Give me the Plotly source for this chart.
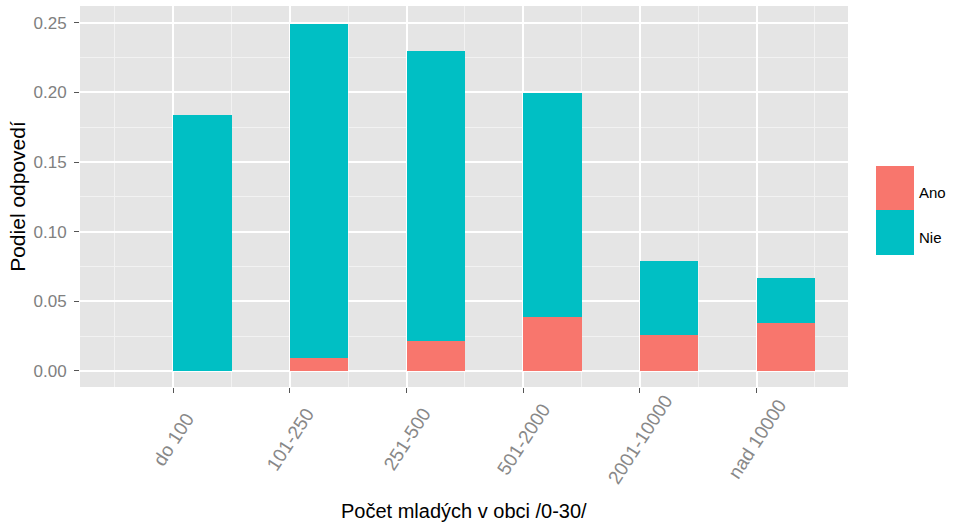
import numpy as np
import plotly.graph_objects as go

categories = ["do 100", "101-250", "251-500", "501-2000", "2001-10000", "nad 10000"]
ano = [0.0, 0.0093, 0.0218, 0.0384, 0.0261, 0.0343]
nie = [0.1837, 0.2400, 0.2081, 0.1609, 0.0525, 0.0321]
series_names = ["Ano", "Nie"]
series_colors = ["#F8766D", "#00BFC4"]
y_ticks = [0.00, 0.05, 0.10, 0.15, 0.20, 0.25]

pos = np.arange(1, len(categories) + 1)
bar_x = pos + 0.25

FONT = "Liberation Sans, Arial, sans-serif"
W, H = 953, 522
L, R, T, B = 80, 105, 6, 135
plot_h = H - T - B


def px_x(px):
    return (px - L) / (W - L - R)


def px_y(py):
    return (H - B - py) / plot_h


fig = go.Figure()
for name, vals, col in zip(series_names, [ano, nie], series_colors):
    fig.add_trace(go.Bar(x=bar_x, y=vals, width=0.5, name=name,
                         marker=dict(color=col, line=dict(width=0)),
                         showlegend=False))

fig.update_layout(
    width=W, height=H,
    barmode="stack",
    paper_bgcolor="white",
    plot_bgcolor="#E5E5E5",
    margin=dict(l=L, r=R, t=T, b=B, autoexpand=False),
    font=dict(family=FONT),
)

fig.update_xaxes(
    range=[0.2, 6.784], automargin=False,
    tickvals=list(pos), ticktext=[""] * len(categories),
    ticks="outside", ticklen=5, tickcolor="#555555", tickwidth=1,
    showgrid=True, gridcolor="white", gridwidth=1.6,
    minor=dict(dtick=0.5, tick0=0.5, showgrid=True, gridcolor="#F2F2F2", gridwidth=0.8, ticks=""),
    zeroline=False, showline=False,
)
fig.update_yaxes(
    range=[-0.0115, 0.262], automargin=False,
    tickvals=y_ticks, tickformat=".2f",
    tickfont=dict(size=17, color="#808080"),
    ticks="outside", ticklen=5, tickcolor="#555555", tickwidth=1,
    ticklabelstandoff=4,
    showgrid=True, gridcolor="white", gridwidth=1.6,
    minor=dict(dtick=0.025, tick0=0.025, showgrid=True, gridcolor="#F2F2F2", gridwidth=0.8, ticks=""),
    zeroline=False, showline=False,
    title=dict(text="Podiel odpovedí", font=dict(size=21, color="black"), standoff=2),
)

# Rotated category labels centred on their ticks (ggplot style)
for p, lab in zip(pos, categories):
    fig.add_annotation(x=p, y=px_y(439), xref="x", yref="paper",
                       text=lab, textangle=-57, showarrow=False,
                       xanchor="center", yanchor="middle",
                       font=dict(size=19, color="#888888", family=FONT))

# X axis title
fig.add_annotation(x=0.5, y=px_y(511), xref="paper", yref="paper",
                   text="Počet mladých v obci /0-30/", showarrow=False,
                   xanchor="center", yanchor="middle",
                   font=dict(size=20, color="black", family=FONT))

# Legend drawn manually (large ggplot-style keys)
key_x0, key_x1 = px_x(876), px_x(914)
key_bounds = [(px_y(210), px_y(166)), (px_y(255), px_y(210))]
label_y = [px_y(192), px_y(237)]
for name, col, (y0, y1), ly in zip(series_names, series_colors, key_bounds, label_y):
    fig.add_shape(type="rect", xref="paper", yref="paper", x0=key_x0, x1=key_x1, y0=y0, y1=y1,
                  fillcolor=col, line=dict(width=0), layer="above")
    fig.add_annotation(x=px_x(917), y=ly, xref="paper", yref="paper", text=name,
                       showarrow=False, xanchor="left", yanchor="middle",
                       font=dict(size=15, color="black", family=FONT))

fig.write_html("out.html", config={"displayModeBar": False},
               post_script="document.body.style.margin='0px';")
